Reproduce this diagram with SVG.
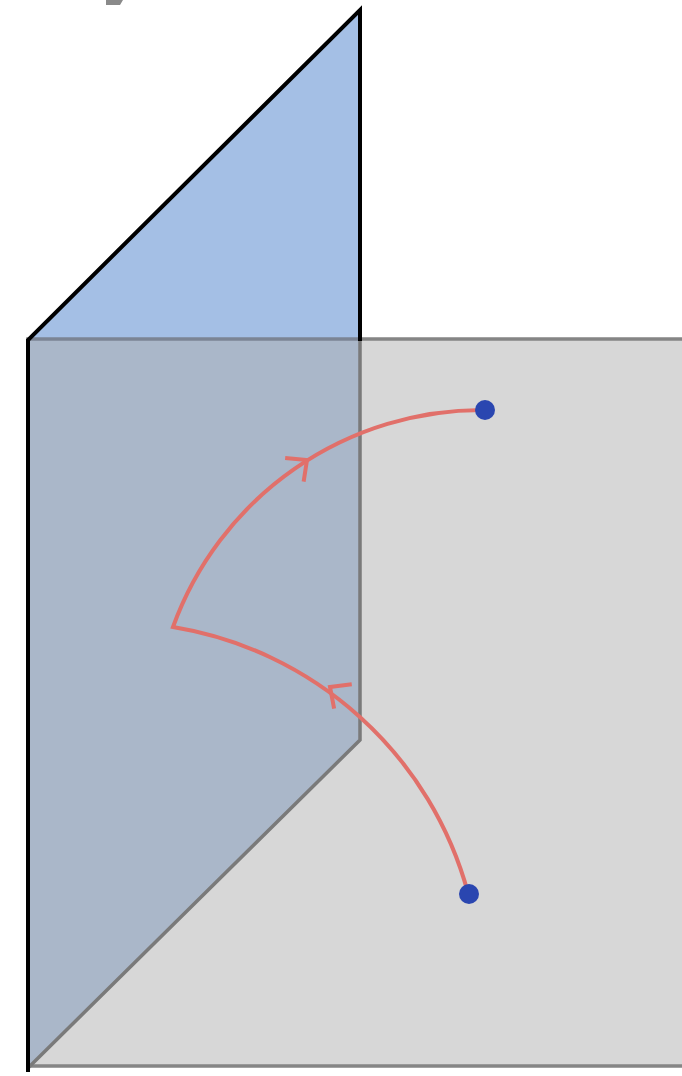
<svg xmlns="http://www.w3.org/2000/svg" width="682" height="1076" viewBox="0 0 682 1076">
<style>
.curve{fill:none;stroke:#e1706a;stroke-width:4;stroke-linejoin:miter;stroke-miterlimit:10}
.dot{fill:#2a46b0}
</style>
<defs>
<path id="chev" d="M-16,-15 L0,0 L-16,15" fill="none" stroke="#e1706a" stroke-width="4" stroke-linejoin="miter"/>
</defs>
<rect width="682" height="1076" fill="#ffffff"/>
<polygon points="106,0 123,0 120,5 106,5" fill="#8a8a8a"/>
<g id="floor">
<rect x="28" y="339" width="680" height="727" fill="#d7d7d7" stroke="#858585" stroke-width="3.5"/>
</g>
<g id="wall">
<polygon points="28,340 360,10 360,340" fill="#a4bfe5"/>
<polygon points="28,340 360,340 360,740 28,1068" fill="#aab7c9"/>
<line x1="28" y1="339" x2="360" y2="339" stroke="#7b8494" stroke-width="3.5"/>
<polyline points="360,340 360,740 28,1068" fill="none" stroke="#7a7a7a" stroke-width="3.5"/>
<polyline points="28,1072 28,340 360,10 360,341" fill="none" stroke="#000000" stroke-width="4" stroke-linejoin="miter"/>
</g>
<g id="connectors">
<path class="curve" d="M468,893 A367,367 0 0 0 173,627 A329,329 0 0 1 485,410"/>
<use href="#chev" transform="translate(307,460) rotate(-38)"/>
<use href="#chev" transform="translate(330,687) rotate(-144)"/>
</g>
<g id="point-start"><circle class="dot" cx="469" cy="894" r="10"/></g>
<g id="point-end"><circle class="dot" cx="485" cy="410" r="10"/></g>
</svg>
